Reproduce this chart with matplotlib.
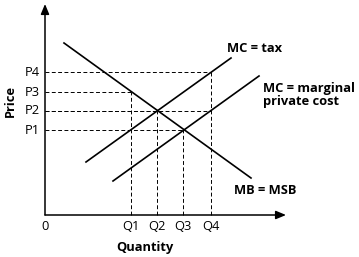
import matplotlib
matplotlib.use("Agg")
import matplotlib.pyplot as plt

# Data (economic units, origin at the axes corner)
q_labels = ["Q1", "Q2", "Q3", "Q4"]
q_values = [86, 112, 138, 166]
p_labels = ["P1", "P2", "P3", "P4"]
p_values = [85, 104, 123, 143]

# Curves: (x0, y0), (x1, y1)
mb_x = [19, 206]
mb_y = [172, 37]
mctax_x = [41, 186]
mctax_y = [53, 157]
mcp_x = [68, 214]
mcp_y = [34, 139]

# dashed guide pairs: price index -> quantity index
guides = [(0, 2), (1, 1), (2, 0), (3, 3)]  # P1-Q3, P2-Q2, P3-Q1, P4-Q4
extra_h = [(1, 3)]  # P2 extends to Q4

fig = plt.figure(figsize=(3.59, 2.57), dpi=100)
ax = fig.add_axes([0, 0, 1, 1])
ax.set_xlim(-45, 314)
ax.set_ylim(-42, 215)
ax.axis("off")

font = "Open Sans"
fs = 9.3

# axes with arrows
ax.annotate("", xy=(0, 211), xytext=(0, 0),
            arrowprops=dict(arrowstyle="-|>,head_length=0.6,head_width=0.25", color="black", lw=1.1, shrinkA=0, shrinkB=0))
ax.annotate("", xy=(241, 0), xytext=(0, 0),
            arrowprops=dict(arrowstyle="-|>,head_length=0.6,head_width=0.25", color="black", lw=1.1, shrinkA=0, shrinkB=0))

dash = dict(color="black", lw=0.7, ls=(0, (4, 2.5)))
for pi, qi in guides:
    ax.plot([0, q_values[qi]], [p_values[pi], p_values[pi]], **dash)
    ax.plot([q_values[qi], q_values[qi]], [0, p_values[pi]], **dash)
for pi, qi in extra_h:
    ax.plot([0, q_values[qi]], [p_values[pi], p_values[pi]], **dash)

ax.plot(mb_x, mb_y, color="black", lw=1.2)
ax.plot(mctax_x, mctax_y, color="black", lw=1.2)
ax.plot(mcp_x, mcp_y, color="black", lw=1.2)

for lab, v in zip(p_labels, p_values):
    ax.text(-5, v, lab, ha="right", va="center", fontsize=fs, family=font)
for lab, v in zip(q_labels, q_values):
    ax.text(v, -12, lab, ha="center", va="center", fontsize=fs, family=font)
ax.text(0, -12, "0", ha="center", va="center", fontsize=fs, family=font)

ax.text(100, -32, "Quantity", ha="center", va="center", fontsize=fs, family=font, fontweight="bold")
ax.text(-35, 114, "Price", ha="center", va="center", rotation=90, fontsize=fs, family=font, fontweight="bold")

ax.text(182, 167, "MC = tax", ha="left", va="center", fontsize=fs, family=font, fontweight="bold")
ax.text(218, 120, "MC = marginal\nprivate cost", ha="left", va="center", fontsize=fs, family=font, fontweight="bold", linespacing=1.05)
ax.text(189, 25, "MB = MSB", ha="left", va="center", fontsize=fs, family=font, fontweight="bold")

fig.savefig("out.png", dpi=100, facecolor="white")
